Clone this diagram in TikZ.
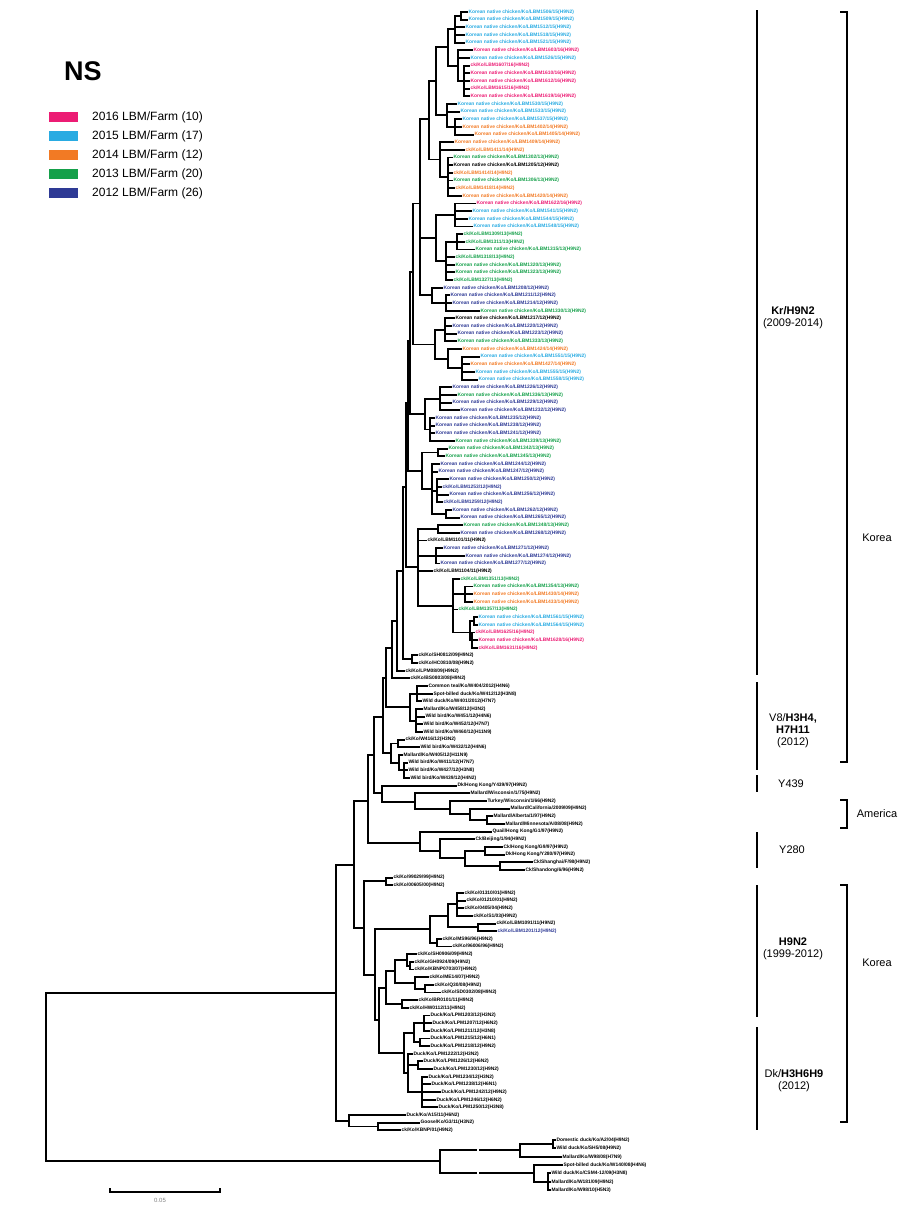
\documentclass[tikz,border=0pt]{standalone}
\usepackage{fontspec}
\setmainfont{Liberation Sans}
\definecolor{cP}{HTML}{EC1C74}
\definecolor{cC}{HTML}{29ABE2}
\definecolor{cO}{HTML}{F27A24}
\definecolor{cG}{HTML}{15A04A}
\definecolor{cB}{HTML}{2E3A95}
\newcommand\ypos[1]{12+(#1-1)*7.66}
\newcommand\tnode[4]{\coordinate (#1) at ({#3},{\ypos{#4}}); \draw[br] (#2) |- (#1);}
\newcommand\tnodea[4]{\coordinate (#1) at (#3,#4); \draw[br] (#2) |- (#1);}
\newcommand\tleaf[6]{\node[leaf,text=#5] (#1) at ({#3},{\ypos{#4}}) {#6}; \draw[br] (#2) |- (#1.west);}
\newcommand\tleafa[6]{\node[leaf,text=#5] (#1) at (#3,#4) {#6}; \draw[br] (#2) |- (#1.west);}
\newcommand\knc[2]{Korean native chicken/Ko/LBM#1/#2(H9N2)}
\newcommand\ckc[2]{ck/Ko/LBM#1/#2(H9N2)}
\begin{document}
\begin{tikzpicture}[x=1pt,y=-1pt,
  br/.style={line width=1.9pt},
  leaf/.style={anchor=west,inner sep=0.4pt,font=\fontsize{4.9}{5.4}\selectfont\bfseries},
  swatch/.style={minimum width=29pt,minimum height=10pt,inner sep=0pt,draw=none},
  legtxt/.style={anchor=west,inner sep=0pt,font=\fontsize{12}{13}\selectfont},
  ann/.style={align=center,inner sep=0pt,font=\fontsize{11}{12}\selectfont},
  cbar/.style={line width=1.5pt},
  brk/.style={line width=1.5pt}]
\useasboundingbox (0,0) rectangle (904,1205);
% title and legend
\node[anchor=base west,inner sep=0pt,font=\fontsize{27}{30}\selectfont\bfseries] (title) at (64,80) {NS};
\node[swatch,fill=cP] (s1) at (63.5,117) {};
\node[swatch,fill=cC] (s2) at (63.5,136) {};
\node[swatch,fill=cO] (s3) at (63.5,155) {};
\node[swatch,fill=cG] (s4) at (63.5,174) {};
\node[swatch,fill=cB] (s5) at (63.5,193) {};
\node[legtxt] (t1) at (92,117) {2016 LBM/Farm (10)};
\node[legtxt] (t2) at (92,136) {2015 LBM/Farm (17)};
\node[legtxt] (t3) at (92,155) {2014 LBM/Farm (12)};
\node[legtxt] (t4) at (92,174) {2013 LBM/Farm (20)};
\node[legtxt] (t5) at (92,193) {2012 LBM/Farm (26)};
% backbone
\coordinate (R) at (46,1076);
\tnodea{I}{R}{336}{993}
\tnodea{O}{R}{440}{1161}
\tnode{U0}{I}{354}{112.3}
\tnode{B0}{I}{349}{145.75}
\tnode{U1}{U0}{368}{104}
\tnode{L0}{U0}{364}{120.6}
\tnode{U2}{U1}{374}{98}
\tnode{Y280}{U1}{420}{109.5}
\tnode{U3}{U2}{383}{93}
\tnode{YA}{U2}{382}{103}
\tnode{U4}{U3}{386}{88}
\tnode{V8b}{U3}{391}{97.75}
\tnode{U5}{U4}{392}{84}
\tnode{V8a}{U4}{410}{91.75}
\tnode{U6}{U5}{397}{80.5}
\tnode{K0}{U6}{403}{74}
\tnode{P85}{K0}{412}{85.5}
\tnode{K1}{K0}{406}{63}
\tnode{A1}{K1}{408}{52}
\tnode{B}{K1}{418}{73.5}
\tnode{A2}{A1}{410}{44}
\tnode{S9}{A1}{422}{60.9}
\tnode{A3}{A2}{413}{35}
\tnode{S8}{A2}{425}{53.5}
\tnode{A4}{A3}{420}{26}
\tnode{S7}{A3}{435}{44.4}
\tnode{A5}{A4}{429}{15}
\tnode{S45}{A4}{436}{30.5}
\tnode{S6}{A4}{432}{38}
\tnode{A6}{A5}{436}{10}
\tnode{S3}{A5}{440}{20.25}
\tnode{S1}{A6}{448}{5.6}
\tnode{S2}{A6}{447}{14.5}
\tnode{S1a}{S1}{455}{3.25}
\tnode{S1aa}{S1a}{461}{1.5}
\tnode{S1b}{S1}{458}{8}
\tnode{S1c}{S1b}{464}{10}
\tnode{S2a}{S2}{455}{16}
\tnode{S3a}{S3}{448}{22.5}
\tnode{S4}{S45}{455}{27.5}
\tnode{S5}{S45}{446}{33.5}
\tnode{S5a}{S5}{457}{31}
\tnode{S6a}{S6}{446}{39}
\tnode{S7x}{S7}{445}{42.5}
\tnode{S7y}{S7}{448}{46.25}
\tnode{S7b}{S7y}{462}{47.5}
\tnode{S8a}{S8}{440}{51.5}
\tnode{S8b}{S8}{430}{55.5}
\tnode{S9a}{S9}{438}{58.5}
\tnode{S9b}{S9}{432}{63.25}
\tnode{S9c}{S9b}{437}{63.5}
\tnode{S9d}{S9b}{446}{66.5}
\tnode{Ba}{B}{438}{68.5}
\tnode{Bb2}{B}{436}{72}
\tnode{B3}{B}{453}{78.5}
\tnode{B3a}{B3}{465}{77}
\tnode{B3b}{B3}{470}{82}
\tnode{B3c}{B3b}{474}{80.5}
\tnode{B3d}{B3b}{472}{83}
% Kr/H9N2 leaves
\tleaf{l1}{S1aa}{468}{1}{cC}{\knc{1506}{15}}
\tleaf{l2}{S1aa}{468}{2}{cC}{\knc{1509}{15}}
\tleaf{l3}{S1a}{465}{3}{cC}{\knc{1512}{15}}
\tleaf{l4}{S1a}{465}{4}{cC}{\knc{1518}{15}}
\tleaf{l5}{S1a}{465}{5}{cC}{\knc{1521}{15}}
\tleaf{l6}{S1b}{473}{6}{cP}{\knc{1603}{16}}
\tleaf{l7}{S1b}{470}{7}{cC}{\knc{1526}{15}}
\tleaf{l8}{S1c}{470}{8}{cP}{\ckc{1607}{16}}
\tleaf{l9}{S1c}{470}{9}{cP}{\knc{1610}{16}}
\tleaf{l10}{S1c}{470}{10}{cP}{\knc{1612}{16}}
\tleaf{l11}{S1c}{470}{11}{cP}{\ckc{1615}{16}}
\tleaf{l12}{S1c}{470}{12}{cP}{\knc{1619}{16}}
\tleaf{l13}{S2}{457}{13}{cC}{\knc{1530}{15}}
\tleaf{l14}{S2}{460}{14}{cC}{\knc{1533}{15}}
\tleaf{l15}{S2a}{462}{15}{cC}{\knc{1537}{15}}
\tleaf{l16}{S2a}{462}{16}{cO}{\knc{1402}{14}}
\tleaf{l17}{S2a}{474}{17}{cO}{\knc{1405}{14}}
\tleaf{l18}{S3}{454}{18}{cO}{\knc{1409}{14}}
\tleaf{l19}{S3}{465}{19}{cO}{\ckc{1411}{14}}
\tleaf{l20}{S3a}{453}{20}{cG}{\knc{1302}{13}}
\tleaf{l21}{S3a}{453}{21}{black}{\knc{1205}{12}}
\tleaf{l22}{S3a}{453}{22}{cO}{\ckc{1414}{14}}
\tleaf{l23}{S3a}{453}{23}{cG}{\knc{1306}{13}}
\tleaf{l24}{S3a}{455}{24}{cO}{\ckc{1418}{14}}
\tleaf{l25}{S3a}{462}{25}{cO}{\knc{1420}{14}}
\tleaf{l26}{S4}{476}{26}{cP}{\knc{1622}{16}}
\tleaf{l27}{S4}{472}{27}{cC}{\knc{1541}{15}}
\tleaf{l28}{S4}{468}{28}{cC}{\knc{1544}{15}}
\tleaf{l29}{S4}{473}{29}{cC}{\knc{1548}{15}}
\tleaf{l30}{S5a}{463}{30}{cG}{\ckc{1309}{13}}
\tleaf{l31}{S5a}{465}{31}{cG}{\ckc{1311}{13}}
\tleaf{l32}{S5a}{475}{32}{cG}{\knc{1315}{13}}
\tleaf{l33}{S5}{455}{33}{cG}{\ckc{1318}{13}}
\tleaf{l34}{S5}{455}{34}{cG}{\knc{1320}{13}}
\tleaf{l35}{S5}{455}{35}{cG}{\knc{1323}{13}}
\tleaf{l36}{S5}{453}{36}{cG}{\ckc{1327}{13}}
\tleaf{l37}{S6}{443}{37}{cB}{\knc{1208}{12}}
\tleaf{l38}{S6a}{450}{38}{cB}{\knc{1211}{12}}
\tleaf{l39}{S6a}{452}{39}{cB}{\knc{1214}{12}}
\tleaf{l40}{S6a}{480}{40}{cG}{\knc{1330}{13}}
\tleaf{l41}{S7x}{455}{41}{black}{\knc{1217}{12}}
\tleaf{l42}{S7x}{452}{42}{cB}{\knc{1220}{12}}
\tleaf{l43}{S7x}{457}{43}{cB}{\knc{1223}{12}}
\tleaf{l44}{S7x}{457}{44}{cG}{\knc{1333}{13}}
\tleaf{l45}{S7y}{462}{45}{cO}{\knc{1424}{14}}
\tleaf{l46}{S7b}{480}{46}{cC}{\knc{1551}{15}}
\tleaf{l47}{S7b}{470}{47}{cO}{\knc{1427}{14}}
\tleaf{l48}{S7b}{475}{48}{cC}{\knc{1555}{15}}
\tleaf{l49}{S7b}{478}{49}{cC}{\knc{1558}{15}}
\tleaf{l50}{S8a}{452}{50}{cB}{\knc{1226}{12}}
\tleaf{l51}{S8a}{457}{51}{cG}{\knc{1336}{13}}
\tleaf{l52}{S8a}{452}{52}{cB}{\knc{1229}{12}}
\tleaf{l53}{S8a}{460}{53}{cB}{\knc{1232}{12}}
\tleaf{l54}{S8b}{435}{54}{cB}{\knc{1235}{12}}
\tleaf{l55}{S8b}{435}{55}{cB}{\knc{1238}{12}}
\tleaf{l56}{S8b}{435}{56}{cB}{\knc{1241}{12}}
\tleaf{l57}{S8b}{455}{57}{cG}{\knc{1339}{13}}
\tleaf{l58}{S9a}{448}{58}{cG}{\knc{1342}{13}}
\tleaf{l59}{S9a}{445}{59}{cG}{\knc{1345}{13}}
\tleaf{l60}{S9b}{440}{60}{cB}{\knc{1244}{12}}
\tleaf{l61}{S9b}{438}{61}{cB}{\knc{1247}{12}}
\tleaf{l62}{S9c}{449}{62}{cB}{\knc{1250}{12}}
\tleaf{l63}{S9c}{442}{63}{cB}{\ckc{1253}{12}}
\tleaf{l64}{S9c}{449}{64}{cB}{\knc{1256}{12}}
\tleaf{l65}{S9c}{443}{65}{cB}{\ckc{1259}{12}}
\tleaf{l66}{S9d}{452}{66}{cB}{\knc{1262}{12}}
\tleaf{l67}{S9d}{460}{67}{cB}{\knc{1265}{12}}
\tleaf{l68}{Ba}{463}{68}{cG}{\knc{1348}{13}}
\tleaf{l69}{Ba}{460}{69}{cB}{\knc{1268}{12}}
\tleaf{l70}{B}{427}{70}{black}{\ckc{1101}{11}}
\tleaf{l71}{Bb2}{443}{71}{cB}{\knc{1271}{12}}
\tleaf{l72}{Bb2}{465}{72}{cB}{\knc{1274}{12}}
\tleaf{l73}{Bb2}{440}{73}{cB}{\knc{1277}{12}}
\tleaf{l74}{B}{433}{74}{black}{\ckc{1104}{11}}
\tleaf{l75}{B3}{460}{75}{cG}{\ckc{1351}{13}}
\tleaf{l76}{B3a}{473}{76}{cG}{\knc{1354}{13}}
\tleaf{l77}{B3a}{473}{77}{cO}{\knc{1430}{14}}
\tleaf{l78}{B3a}{473}{78}{cO}{\knc{1433}{14}}
\tleaf{l79}{B3}{458}{79}{cG}{\ckc{1357}{13}}
\tleaf{l80}{B3c}{478}{80}{cC}{\knc{1561}{15}}
\tleaf{l81}{B3c}{478}{81}{cC}{\knc{1564}{15}}
\tleaf{l82}{B3d}{475}{82}{cP}{\ckc{1625}{16}}
\tleaf{l83}{B3d}{478}{83}{cP}{\knc{1628}{16}}
\tleaf{l84}{B3d}{478}{84}{cP}{\ckc{1631}{16}}
% black leaves below Kr/H9N2
\tleaf{l85}{P85}{418}{85}{black}{ck/Ko/SH0812/09(H9N2)}
\tleaf{l86}{P85}{418}{86}{black}{ck/Ko/HC0810/08(H9N2)}
\tleaf{l87}{U6}{405}{87}{black}{ck/Ko/LPM08/09(H9N2)}
\tleaf{l88}{U5}{410}{88}{black}{ck/Ko/BS0803/08(H9N2)}
\tnode{V8f}{V8a}{417}{90}
\tnode{V8h}{V8a}{416}{93.5}
\tleaf{l89}{V8f}{428}{89}{black}{Common teal/Ko/W404/2012(H4N6)}
\tleaf{l90}{V8f}{433}{90}{black}{Spot-billed duck/Ko/W412/12(H3N8)}
\tleaf{l91}{V8f}{422}{91}{black}{Wild duck/Ko/W401/2012(H7N7)}
\tleaf{l92}{V8h}{423}{92}{black}{Mallard/Ko/W458/12(H3N2)}
\tleaf{l93}{V8h}{425}{93}{black}{Wild bird/Ko/W451/12(H4N6)}
\tleaf{l94}{V8h}{423}{94}{black}{Wild bird/Ko/W452/12(H7N7)}
\tleaf{l95}{V8h}{423}{95}{black}{Wild bird/Ko/W460/12(H11N9)}
\tnode{V8c}{V8b}{398}{96.5}
\tnode{V8d}{V8b}{399}{99}
\tnode{V8e}{V8d}{404}{100}
\tleaf{l96}{V8c}{405}{96}{black}{ck/Ko/W416/12(H3N2)}
\tleaf{l97}{V8c}{420}{97}{black}{Wild bird/Ko/W432/12(H4N6)}
\tleaf{l98}{V8d}{403}{98}{black}{Mallard/Ko/W405/12(H11N9)}
\tleaf{l99}{V8e}{408}{99}{black}{Wild bird/Ko/W411/12(H7N7)}
\tleaf{l100}{V8e}{408}{100}{black}{Wild bird/Ko/W427/12(H3N8)}
\tleaf{l101}{V8e}{410}{101}{black}{Wild bird/Ko/W439/12(H4N2)}
% Y439 and America
\tleaf{l102}{YA}{457}{102}{black}{Dk/Hong Kong/Y439/97(H9N2)}
\tnode{Am1}{YA}{415}{104.1}
\tleaf{l103}{Am1}{470}{103}{black}{Mallard/Wisconsin/1/75(H9N2)}
\tnode{Am2}{Am1}{450}{105.1}
\tleaf{l104}{Am2}{487}{104}{black}{Turkey/Wisconsin/1/66(H9N2)}
\tnode{Am3}{Am2}{470}{105.75}
\tleaf{l105}{Am3}{510}{105}{black}{Mallard/California/2009/09(H9N2)}
\tnode{Am4}{Am3}{487}{106.5}
\tleaf{l106}{Am4}{493}{106}{black}{Mallard/Alberta/1/97(H9N2)}
\tleaf{l107}{Am4}{505}{107}{black}{Mallard/Minnesota/AI08/08(H9N2)}
% Y280
\tleaf{l108}{Y280}{492}{108}{black}{Quail/Hong Kong/G1/97(H9N2)}
\tnode{Yb}{Y280}{440}{110.5}
\tleaf{l109}{Yb}{475}{109}{black}{Ck/Beijing/1/94(H9N2)}
\tnode{Yc}{Yb}{465}{111.5}
\tnode{Yd}{Yc}{485}{110.5}
\tleaf{l110}{Yd}{503}{110}{black}{Ck/Hong Kong/G9/97(H9N2)}
\tleaf{l111}{Yd}{505}{111}{black}{Dk/Hong Kong/Y280/97(H9N2)}
\tnode{Ye}{Yc}{500}{112.5}
\tleaf{l112}{Ye}{533}{112}{black}{Ck/Shanghai/F/98(H9N2)}
\tleaf{l113}{Ye}{525}{113}{black}{Ck/Shandong/6/96(H9N2)}
% H9N2 Korea
\tnode{P114}{L0}{386}{114.5}
\tleaf{l114}{P114}{393}{114}{black}{ck/Ko/99029/99(H9N2)}
\tleaf{l115}{P114}{393}{115}{black}{ck/Ko/00605/00(H9N2)}
\tnode{L1}{L0}{375}{126.7}
\tnode{H}{L1}{430}{120.75}
\tnode{L2}{L1}{379}{132.6}
\tnode{Ha}{H}{448}{119}
\tnode{Hb}{H}{437}{122.5}
\tnode{Hc}{Ha}{457}{117.5}
\tnode{Hd}{Ha}{478}{120.5}
\tleaf{l116}{Hc}{464}{116}{black}{ck/Ko/01310/01(H9N2)}
\tleaf{l117}{Hc}{466}{117}{black}{ck/Ko/01210/01(H9N2)}
\tleaf{l118}{Hc}{464}{118}{black}{ck/Ko/0405/04(H9N2)}
\tleaf{l119}{Hc}{473}{119}{black}{ck/Ko/S1/03(H9N2)}
\tleaf{l120}{Hd}{496}{120}{black}{ck/Ko/LBM1091/11(H9N2)}
\tleaf{l121}{Hd}{497}{121}{cB}{\ckc{1201}{12}}
\tleaf{l122}{Hb}{442}{122}{black}{ck/Ko/MS96/96(H9N2)}
\tleaf{l123}{Hb}{452}{123}{black}{ck/Ko/96006/96(H9N2)}
\tnode{L3}{L2}{386}{128.4}
\tnode{Dk}{L2}{404}{136.9}
\tnode{L4}{L3}{395}{126.25}
\tnode{L5}{L3}{402}{130.5}
\tnode{L6}{L4}{407}{124.75}
\tnode{L6a}{L6}{410}{125.5}
\tnode{L7}{L4}{415}{127.75}
\tnode{L7a}{L7}{425}{128.5}
\tleaf{l124}{L6}{417}{124}{black}{ck/Ko/SH0906/09(H9N2)}
\tleaf{l125}{L6a}{414}{125}{black}{ck/Ko/GH0924/09(H9N2)}
\tleaf{l126}{L6a}{414}{126}{black}{ck/Ko/KBNP0703/07(H9N2)}
\tleaf{l127}{L7}{429}{127}{black}{ck/Ko/ME14/07(H9N2)}
\tleaf{l128}{L7a}{434}{128}{black}{ck/Ko/Q30/08(H9N2)}
\tleaf{l129}{L7a}{441}{129}{black}{ck/Ko/SD0302/08(H9N2)}
\tleaf{l130}{L5}{418}{130}{black}{ck/Ko/BR0101/11(H9N2)}
\tleaf{l131}{L5}{409}{131}{black}{ck/Ko/HW0112/11(H9N2)}
% Dk/H3H6H9
\tnode{D1}{Dk}{414}{134.25}
\tnode{D1a}{D1}{424}{133}
\tnode{D1b}{D1}{420}{135.5}
\tnode{D2}{Dk}{408}{139.5}
\tnode{D2a}{D2}{418}{138.5}
\tnode{D2b}{D2}{422}{142}
\tleaf{l132}{D1a}{430}{132}{black}{Duck/Ko/LPM1203/12(H3N2)}
\tleaf{l133}{D1a}{432}{133}{black}{Duck/Ko/LPM1207/12(H6N2)}
\tleaf{l134}{D1a}{430}{134}{black}{Duck/Ko/LPM1211/12(H3N8)}
\tleaf{l135}{D1b}{430}{135}{black}{Duck/Ko/LPM1215/12(H6N1)}
\tleaf{l136}{D1b}{430}{136}{black}{Duck/Ko/LPM1218/12(H9N2)}
\tleaf{l137}{D2}{413}{137}{black}{Duck/Ko/LPM1222/12(H3N2)}
\tleaf{l138}{D2a}{423}{138}{black}{Duck/Ko/LPM1226/12(H6N2)}
\tleaf{l139}{D2a}{433}{139}{black}{Duck/Ko/LPM1230/12(H9N2)}
\tleaf{l140}{D2b}{428}{140}{black}{Duck/Ko/LPM1234/12(H3N2)}
\tleaf{l141}{D2b}{431}{141}{black}{Duck/Ko/LPM1238/12(H6N1)}
\tleaf{l142}{D2b}{441}{142}{black}{Duck/Ko/LPM1242/12(H9N2)}
\tleaf{l143}{D2b}{436}{143}{black}{Duck/Ko/LPM1246/12(H6N2)}
\tleaf{l144}{D2b}{438}{144}{black}{Duck/Ko/LPM1250/12(H3N8)}
% bottom small clade
\tleaf{l145}{B0}{406}{145}{black}{Duck/Ko/A15/11(H6N2)}
\tnode{Bb}{B0}{378}{146.5}
\tleaf{l146}{Bb}{420}{146}{black}{Goose/Ko/G3/11(H3N2)}
\tleaf{l147}{Bb}{401}{147}{black}{ck/Ko/KBNP/01(H9N2)}
% outgroup
\tnodea{O1}{O}{520}{1150}
\tnodea{O1a}{O1}{553}{1144}
\tnodea{O2}{O}{534}{1173}
\tnodea{O2a}{O2}{548}{1182}
\tleafa{l148}{O1a}{556}{1140}{black}{Domestic duck/Ko/A2/04(H9N2)}
\tleafa{l149}{O1a}{556}{1148}{black}{Wild duck/Ko/SH5/08(H9N2)}
\tleafa{l150}{O1}{562}{1157}{black}{Mallard/Ko/W98/08(H7N9)}
\tleafa{l151}{O2}{563}{1165}{black}{Spot-billed duck/Ko/W140/08(H4N6)}
\tleafa{l152}{O2a}{551}{1173}{black}{Wild duck/Ko/CSM4-12/09(H3N8)}
\tleafa{l153}{O2a}{551}{1182}{black}{Mallard/Ko/W181/09(H9N2)}
\tleafa{l154}{O2a}{551}{1190}{black}{Mallard/Ko/W98/10(H5N3)}
\draw[white,line width=1.2pt] (478,1145)--(478,1155) (478,1168)--(478,1178);
% scale bar
\draw[line width=1.5pt] (110,1188)--(110,1192)--(220,1192)--(220,1188);
\node[font=\fontsize{6}{7}\selectfont,text=gray,inner sep=0pt] (sb) at (160,1200) {0.05};
% clade bars
\draw[cbar] (757,10)--(757,675);
\draw[cbar] (757,682)--(757,770);
\draw[cbar] (757,775)--(757,792);
\draw[cbar] (757,832)--(757,868);
\draw[cbar] (757,885)--(757,1017);
\draw[cbar] (757,1027)--(757,1130);
\node[ann] (a1) at (793,318) {\textbf{Kr/H9N2}\\(2009-2014)};
\node[ann] (a2) at (793,731) {V8/\textbf{H3H4,}\\\textbf{H7H11}\\(2012)};
\node[ann] (a3) at (791,784) {Y439};
\node[ann] (a4) at (792,850) {Y280};
\node[ann] (a5) at (793,949) {\textbf{H9N2}\\(1999-2012)};
\node[ann] (a6) at (794,1081) {Dk/\textbf{H3H6H9}\\(2012)};
% region brackets
\draw[brk] (840,12)--(847,12)--(847,762)--(840,762);
\draw[brk] (840,800)--(847,800)--(847,828)--(840,828);
\draw[brk] (840,885)--(847,885)--(847,1122)--(840,1122);
\node[ann] (k1) at (877,538) {Korea};
\node[ann] (am) at (877,814) {America};
\node[ann] (k2) at (877,963) {Korea};
\end{tikzpicture}
\end{document}
